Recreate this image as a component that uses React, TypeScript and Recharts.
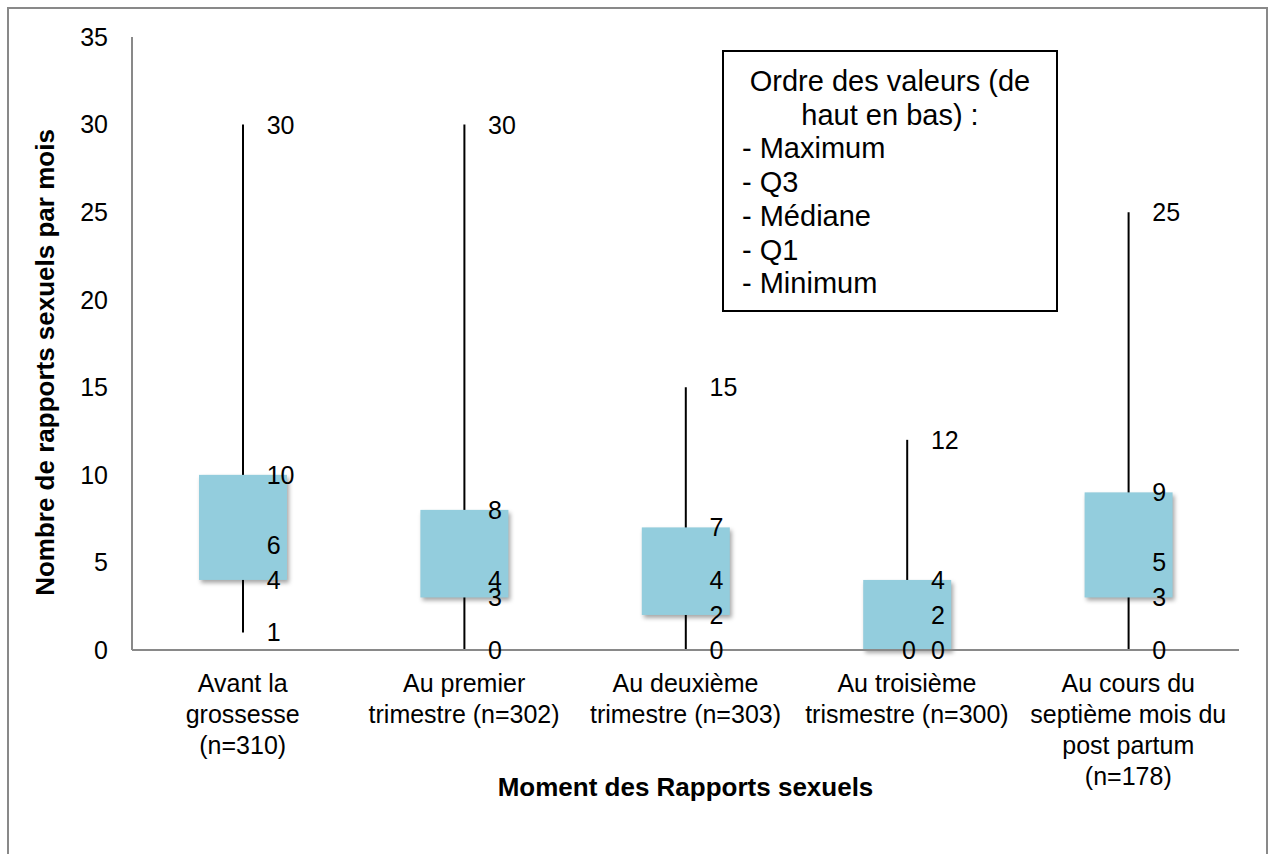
import { ComposedChart, Bar, Line, XAxis, YAxis, LabelList, Legend } from 'recharts';

// valeurs (boîtes à moustaches)
const categories = [
  'Avant la\ngrossesse\n(n=310)',
  'Au premier\ntrimestre (n=302)',
  'Au deuxième\ntrimestre (n=303)',
  'Au troisième\ntrismestre (n=300)',
  'Au cours du\nseptième mois du\npost partum\n(n=178)',
];
const maximum = [30, 30, 15, 12, 25];
const q3 = [10, 8, 7, 4, 9];
const median = [6, 4, 4, 2, 5];
const q1 = [4, 3, 2, 0, 3];
const minimum = [1, 0, 0, 0, 0];
const yTicks = [0, 5, 10, 15, 20, 25, 30, 35];
const legendTitle = ['Ordre des valeurs (de', 'haut en bas) :'];
const legendLines = ['- Maximum', '- Q3', '- Médiane', '- Q1', '- Minimum'];

const FONT = '"Liberation Sans", Arial, sans-serif';
const AXIS = '#898989';
const BOX = '#93CDDD';

const data = categories.map((name, i) => ({
  name,
  max: maximum[i],
  q3: q3[i],
  median: median[i],
  q1: q1[i],
  min: minimum[i],
  box: [q1[i], q3[i]],
  whisker: [minimum[i], maximum[i]],
}));

const Whisker = (props: any) => {
  const { x, y, width, height } = props;
  const cx = x + width / 2;
  const top = Math.min(y, y + height);
  return <line x1={cx} x2={cx} y1={top} y2={top + Math.abs(height)} stroke="#000" strokeWidth={2} />;
};

const BoxShape = (props: any) => {
  const { x, y, width, height } = props;
  const top = Math.min(y, y + height);
  return (
    <rect
      x={x}
      y={top}
      width={width}
      height={Math.abs(height)}
      fill={BOX}
      style={{ filter: 'drop-shadow(2px 3px 2px rgba(0,0,0,0.35))' }}
    />
  );
};

// labels a droite de la boite ; le min du 4e groupe est centre comme dans l'original
const valueLabel = (centeredIndex: number) => (props: any) => {
  const vb = props.viewBox || {};
  const px = vb.x ?? props.x;
  const py = vb.y ?? props.y;
  const centered = props.index === centeredIndex;
  return (
    <text
      x={centered ? px + 2 : px + 24}
      y={py}
      textAnchor={centered ? 'middle' : 'start'}
      dominantBaseline="central"
      fontSize={25}
      fontFamily={FONT}
      fill="#000"
    >
      {props.value}
    </text>
  );
};

const CategoryTick = (props: any) => {
  const { x, y, payload } = props;
  const lines = String(payload.value).split('\n');
  return (
    <text x={x} y={y} textAnchor="middle" fontSize={25} fontFamily={FONT} fill="#000">
      {lines.map((l, i) => (
        <tspan key={i} x={x} dy={i === 0 ? 42 : 31}>
          {l}
        </tspan>
      ))}
    </text>
  );
};

const OrderLegend = () => (
  <div
    style={{
      border: '2px solid #000',
      boxSizing: 'border-box',
      width: 336,
      height: 262,
      padding: '13px 0 0 18px',
      fontFamily: FONT,
      fontSize: 29,
      lineHeight: '33.7px',
      color: '#000',
      background: '#fff',
    }}
  >
    {legendTitle.map(t => (
      <div key={t} style={{ textAlign: 'center', marginLeft: -18 }}>{t}</div>
    ))}
    {legendLines.map(t => (
      <div key={t}>{t}</div>
    ))}
  </div>
);

const series = [
  { key: 'max', centered: -1 },
  { key: 'q3', centered: -1 },
  { key: 'median', centered: -1 },
  { key: 'q1', centered: -1 },
  { key: 'min', centered: 3 },
];

export default function App() {
  return (
    <div
      style={{
        position: 'absolute',
        left: 7,
        top: 7,
        width: 1261,
        height: 847,
        borderTop: `2px solid ${AXIS}`,
        borderLeft: `2px solid ${AXIS}`,
        borderRight: `2px solid ${AXIS}`,
        boxSizing: 'border-box',
        background: '#fff',
      }}
    >
      <ComposedChart
        width={1257}
        height={845}
        data={data}
        margin={{ top: 28, right: 27, bottom: 0, left: 0 }}
      >
        <XAxis xAxisId="w" dataKey="name" hide />
        <XAxis
          xAxisId="main"
          dataKey="name"
          height={204}
          interval={0}
          tickLine={false}
          tickSize={0}
          tickMargin={0}
          axisLine={{ stroke: AXIS, strokeWidth: 2 }}
          tick={<CategoryTick />}
          label={(p: any) => {
            const vb = p.viewBox;
            return (
              <text
                x={vb.x + vb.width / 2}
                y={vb.y + 146}
                textAnchor="middle"
                fontSize={26}
                fontWeight="bold"
                fontFamily={FONT}
                fill="#000"
              >
                Moment des Rapports sexuels
              </text>
            );
          }}
        />
        <YAxis
          width={123}
          domain={[0, 35]}
          ticks={yTicks}
          interval={0}
          tickLine={false}
          tickSize={0}
          tickMargin={24}
          axisLine={{ stroke: AXIS, strokeWidth: 2 }}
          tick={{ fontSize: 25, fill: '#000', fontFamily: FONT }}
          label={(p: any) => {
            const vb = p.viewBox;
            const cx = vb.x + 36;
            const cy = vb.y + vb.height / 2 + 19;
            return (
              <text
                x={cx}
                y={cy}
                transform={`rotate(-90 ${cx} ${cy})`}
                textAnchor="middle"
                dominantBaseline="central"
                fontSize={26}
                fontWeight="bold"
                fontFamily={FONT}
                fill="#000"
              >
                Nombre de rapports sexuels par mois
              </text>
            );
          }}
        />
        <Legend
          layout="horizontal"
          verticalAlign="middle"
          align="center"
          content={<OrderLegend />}
          wrapperStyle={{ top: 41, left: 713, width: 336, height: 262 }}
        />
        <Bar
          xAxisId="w"
          dataKey="whisker"
          barSize={88}
          shape={<Whisker />}
          isAnimationActive={false}
          legendType="none"
        />
        <Bar
          xAxisId="main"
          dataKey="box"
          barSize={88}
          shape={<BoxShape />}
          isAnimationActive={false}
          legendType="none"
        />
        {series.map(s => (
          <Line
            key={s.key}
            xAxisId="main"
            dataKey={s.key}
            stroke="none"
            dot={false}
            activeDot={false}
            isAnimationActive={false}
            legendType="none"
          >
            <LabelList dataKey={s.key} content={valueLabel(s.centered)} />
          </Line>
        ))}
      </ComposedChart>
    </div>
  );
}
